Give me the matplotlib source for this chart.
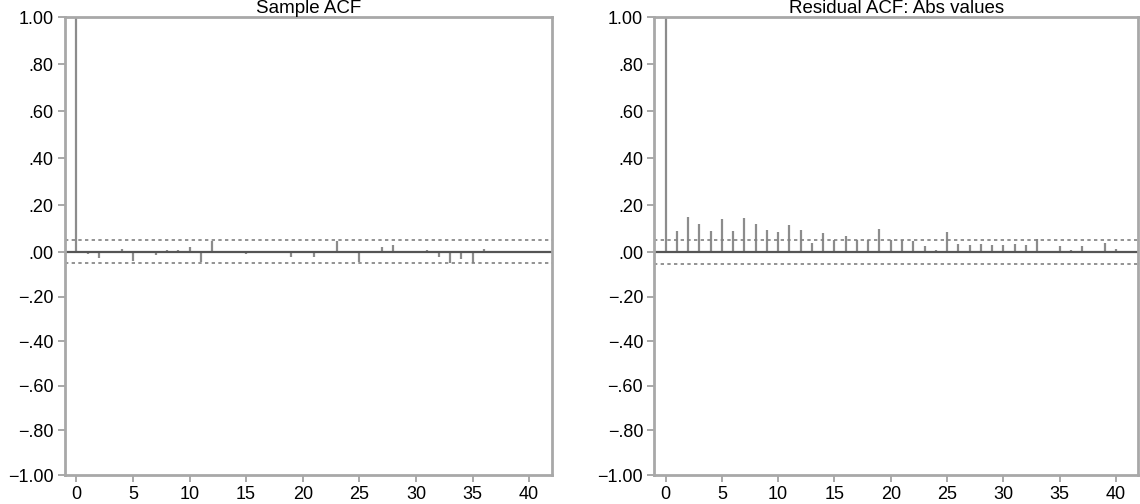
#!/usr/bin/env python3

import numpy as np
import matplotlib
matplotlib.use('Agg')
import matplotlib.pyplot as plt

# lags 0..41
lags = np.arange(42)

sample_acf = [1.0, -0.01, -0.025, 0.0, 0.013, -0.04, -0.005, -0.015, 0.01, 0.01,
              0.02, -0.045, 0.045, -0.005, 0.0, -0.008, 0.0, 0.0, 0.0, -0.02,
              0.0, -0.02, -0.004, 0.045, 0.0, -0.045, 0.0, 0.02, 0.03, 0.0,
              -0.005, 0.01, -0.02, -0.05, -0.03, -0.05, 0.015, 0.003, 0.0, 0.0,
              0.0, 0.0]

resid_abs_acf = [1.0, 0.088, 0.15, 0.12, 0.088, 0.139, 0.088, 0.144, 0.12, 0.093,
                 0.084, 0.113, 0.093, 0.039, 0.081, 0.053, 0.07, 0.053, 0.053, 0.099,
                 0.053, 0.053, 0.046, 0.024, 0.01, 0.084, 0.036, 0.031, 0.036, 0.031,
                 0.031, 0.036, 0.031, 0.056, 0.0, 0.024, 0.01, 0.024, 0.0, 0.039,
                 0.013, 0.0]

conf_band = [0.05, 0.052]
titles = ["Sample ACF", "Residual ACF: Abs values"]

y_ticks = [-1.0, -0.8, -0.6, -0.4, -0.2, 0.0, 0.2, 0.4, 0.6, 0.8, 1.0]
y_labels = ["\u22121.00", "\u2212.80", "\u2212.60", "\u2212.40", "\u2212.20", ".00",
            ".20", ".40", ".60", ".80", "1.00"]
x_ticks = [0, 5, 10, 15, 20, 25, 30, 35, 40]

# the printed chart stretches the upper half a little more than the lower
k_up = 1.054

def fwd(y):
    y = np.asarray(y, dtype=float)
    return np.where(y >= 0, y * k_up, y)

def inv(y):
    y = np.asarray(y, dtype=float)
    return np.where(y >= 0, y / k_up, y)

plt.rcParams['font.family'] = ['Liberation Sans', 'DejaVu Sans']

fig = plt.figure(figsize=(11.4, 5.04), dpi=100)
ax1 = fig.add_axes([0.057, 0.0575, 0.427, 0.9087])
ax2 = fig.add_axes([0.574, 0.0575, 0.4246, 0.9087])

for ax, vals, conf, title in zip([ax1, ax2], [sample_acf, resid_abs_acf], conf_band, titles):
    ax.set_yscale('function', functions=(fwd, inv))
    ax.vlines(lags, 0, vals, color='#8c8c8c', linewidth=1.6)
    ax.axhline(0, color='#555555', linewidth=1.6)
    ax.axhline(conf, color='#808080', linewidth=1.2, linestyle=(0, (2, 2)))
    ax.axhline(-conf, color='#808080', linewidth=1.2, linestyle=(0, (2, 2)))
    ax.set_xlim(-1, 42)
    ax.set_ylim(-1, 1)
    ax.set_yticks(y_ticks)
    ax.set_yticklabels(y_labels, fontsize=13)
    ax.minorticks_off()
    ax.set_xticks(x_ticks)
    ax.set_xticklabels([str(t) for t in x_ticks], fontsize=13)
    ax.tick_params(color='#999999', length=5, width=1.2, pad=3)
    for s in ax.spines.values():
        s.set_color('#a8a8a8')
        s.set_linewidth(2)
    ax.set_title(title, fontsize=13.5, pad=0.5)

plt.savefig("out.png", dpi=100)
